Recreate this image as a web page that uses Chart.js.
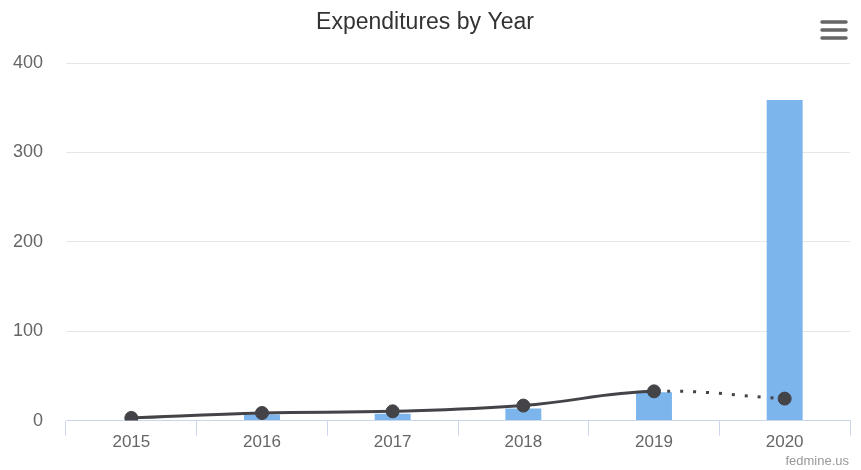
<!DOCTYPE html>
<html>
<head>
<meta charset="utf-8">
<script src="https://cdn.jsdelivr.net/npm/chart.js@4"></script>
<style>
  html, body { margin: 0; padding: 0; background: #fff; }
  #wrap { width: 861px; height: 470px; }
</style>
</head>
<body>
<div id="wrap"><canvas id="expChart" width="861" height="470"></canvas></div>
<script>
// values
const years = ['2015', '2016', '2017', '2018', '2019', '2020'];
const barValues = [0, 6.7, 7.8, 13.4, 31.6, 358.5];
const lineValues = [3, 8.5, 10.4, 16.8, 32.7, 24.6];
const yTicks = [0, 100, 200, 300, 400];

const FONT = "'Liberation Sans', Arial, Helvetica, sans-serif";

// credits text + menu icon
const extras = {
    id: 'extras',
    afterDraw(chart) {
        const ctx = chart.ctx;
        ctx.save();
        ctx.fillStyle = '#999999';
        ctx.font = `13px ${FONT}`;
        ctx.textAlign = 'right';
        ctx.textBaseline = 'middle';
        ctx.fillText('fedmine.us', 849, 461);

        ctx.strokeStyle = '#666666';
        ctx.lineWidth = 3.5;
        ctx.lineCap = 'round';
        [22, 30, 38].forEach(y => {
            ctx.beginPath();
            ctx.moveTo(822, y);
            ctx.lineTo(846, y);
            ctx.stroke();
        });
        ctx.restore();
    }
};

const chart = new Chart(document.getElementById('expChart'), {
    data: {
        labels: years,
        datasets: [{
            type: 'line',
            label: 'Trend',
            data: lineValues,
            order: 0,
            borderColor: '#434348',
            borderWidth: 3,
            tension: 0.4,
            pointRadius: 6.5,
            pointBackgroundColor: '#434348',
            pointBorderColor: '#434348',
            pointBorderWidth: 1,
            segment: {
                borderDash: ctx => ctx.p0DataIndex === 4 ? [3, 10] : undefined
            }
        }, {
            type: 'bar',
            label: 'Expenditures',
            data: barValues,
            order: 1,
            backgroundColor: '#7cb5ec',
            barPercentage: 0.275,
            categoryPercentage: 1
        }]
    },
    options: {
        responsive: false,
        animation: false,
        layout: { padding: { left: 0, right: 11, top: 0, bottom: 20 } },
        plugins: {
            legend: { display: false },
            tooltip: { enabled: false },
            title: {
                display: true,
                text: 'Expenditures by Year',
                color: '#333333',
                font: { family: FONT, size: 23, weight: 'normal' },
                padding: { top: 9, bottom: 26.4 }
            }
        },
        scales: {
            x: {
                offset: true,
                grid: {
                    offset: true,
                    drawOnChartArea: false,
                    color: '#ccd6eb',
                    tickLength: 15
                },
                border: { color: '#ccd6eb' },
                ticks: {
                    color: '#666666',
                    padding: -3,
                    font: { family: FONT, size: 17 }
                }
            },
            y: {
                min: 0,
                max: 400,
                afterBuildTicks: scale => {
                    scale.ticks = yTicks.map(v => ({ value: v }));
                },
                afterFit: scale => { scale.width = 66; },
                grid: { color: '#e6e6e6', drawTicks: false },
                border: { display: false },
                ticks: {
                    color: '#666666',
                    padding: 23,
                    font: { family: FONT, size: 18 }
                }
            }
        }
    },
    plugins: [extras]
});
</script>
</body>
</html>
